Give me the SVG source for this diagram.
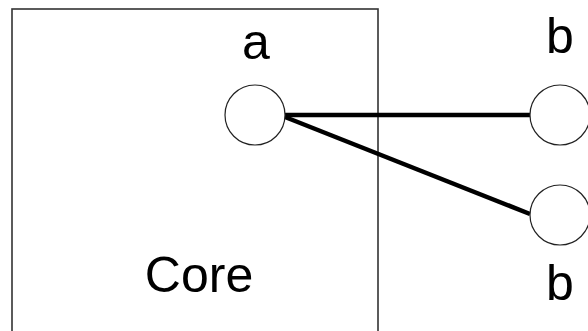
<svg xmlns="http://www.w3.org/2000/svg" width="588" height="331" viewBox="0 0 588 331">
<style>
.lbl{font-family:"Liberation Sans",Arial,sans-serif;font-size:50px;fill:#000}
.port{fill:#fff;stroke:#222;stroke-width:1.2}
.conn{stroke:#000;stroke-width:4.5;fill:none}
</style>
<rect width="588" height="331" fill="#fff"/>
<g id="core">
<rect x="12" y="9" width="366" height="340" fill="none" stroke="#333" stroke-width="1.6"/>
<text class="lbl" x="199" y="292" text-anchor="middle">Core</text>
</g>
<g id="connectors">
<line class="conn" x1="285" y1="115" x2="530" y2="115"/>
<line class="conn" x1="285" y1="117" x2="530" y2="214"/>
</g>
<g id="port-a">
<circle class="port" cx="255" cy="115" r="30"/>
<text class="lbl" x="256" y="59" text-anchor="middle">a</text>
</g>
<g id="port-b1">
<circle class="port" cx="560" cy="115" r="30"/>
<text class="lbl" x="560" y="53" text-anchor="middle">b</text>
</g>
<g id="port-b2">
<circle class="port" cx="560" cy="215" r="30"/>
<text class="lbl" x="560" y="300" text-anchor="middle">b</text>
</g>
</svg>
